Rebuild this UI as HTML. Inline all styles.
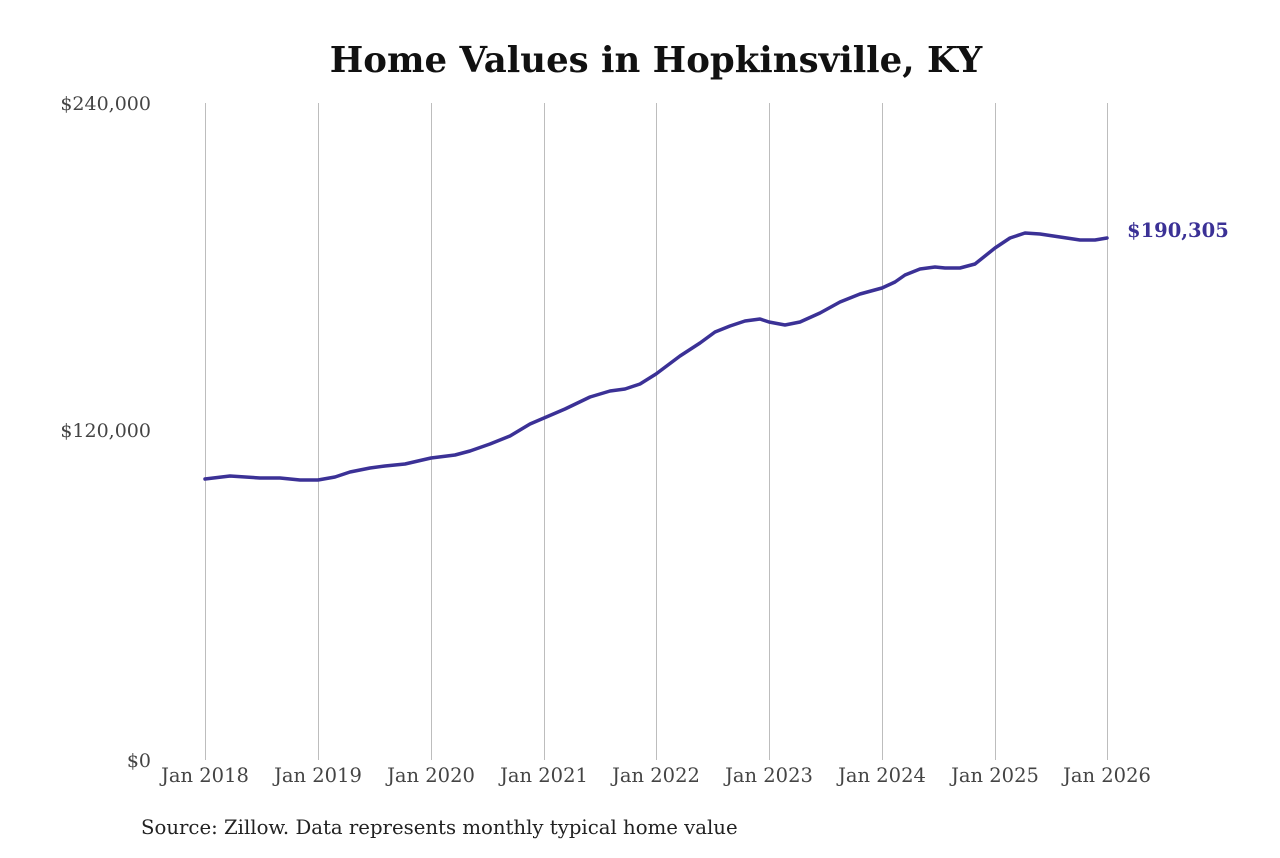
<!DOCTYPE html>
<html><head><meta charset="utf-8"><style>
body{margin:0;background:#fff;width:1280px;height:853px;overflow:hidden}
svg text{font-family:"DejaVu Serif","Liberation Serif",serif}
</style></head><body>
<svg width="1280" height="853" viewBox="0 0 1280 853" xmlns="http://www.w3.org/2000/svg">
<rect width="1280" height="853" fill="#fff"/>
<text x="656" y="72" text-anchor="middle" font-size="35.5" font-weight="bold" fill="#111">Home Values in Hopkinsville, KY</text>
<g stroke="#bdbdbd" stroke-width="1">
<line x1="205.5" y1="103" x2="205.5" y2="760"/>
<line x1="318.5" y1="103" x2="318.5" y2="760"/>
<line x1="431.5" y1="103" x2="431.5" y2="760"/>
<line x1="544.5" y1="103" x2="544.5" y2="760"/>
<line x1="656.5" y1="103" x2="656.5" y2="760"/>
<line x1="769.5" y1="103" x2="769.5" y2="760"/>
<line x1="882.5" y1="103" x2="882.5" y2="760"/>
<line x1="995.5" y1="103" x2="995.5" y2="760"/>
<line x1="1107.5" y1="103" x2="1107.5" y2="760"/>
</g>
<g font-size="19" fill="#444">
<text x="151" y="110" text-anchor="end">$240,000</text>
<text x="151" y="437" text-anchor="end">$120,000</text>
<text x="151" y="767" text-anchor="end">$0</text>
<g text-anchor="middle" font-size="19.5">
<text x="205" y="782">Jan 2018</text>
<text x="318" y="782">Jan 2019</text>
<text x="431" y="782">Jan 2020</text>
<text x="544" y="782">Jan 2021</text>
<text x="656" y="782">Jan 2022</text>
<text x="769" y="782">Jan 2023</text>
<text x="882" y="782">Jan 2024</text>
<text x="995" y="782">Jan 2025</text>
<text x="1107" y="782">Jan 2026</text>
</g>
</g>
<polyline fill="none" stroke="#3b3196" stroke-width="3.5" stroke-linejoin="round" stroke-linecap="round" points="205,479 230,476 260,478 280,478 300,480 318,480 335,477 350,472 370,468 385,466 405,464 431,458 455,455 470,451 490,444 510,436 530,424 544,418 565,409 590,397 610,391 625,389 640,384 656,374 680,356 700,343 715,332 730,326 745,321 760,319 769,322 785,325 800,322 820,313 840,302 860,294 882,288 895,282 905,275 920,269 935,267 945,268 960,268 975,264 995,248 1010,238 1025,233 1040,234 1060,237 1080,240 1095,240 1107,238"/>
<text x="1127" y="237" font-size="19.5" font-weight="bold" fill="#3b3196">$190,305</text>
<text x="141" y="834" font-size="19.7" fill="#222">Source: Zillow. Data represents monthly typical home value</text>
</svg>
</body></html>
